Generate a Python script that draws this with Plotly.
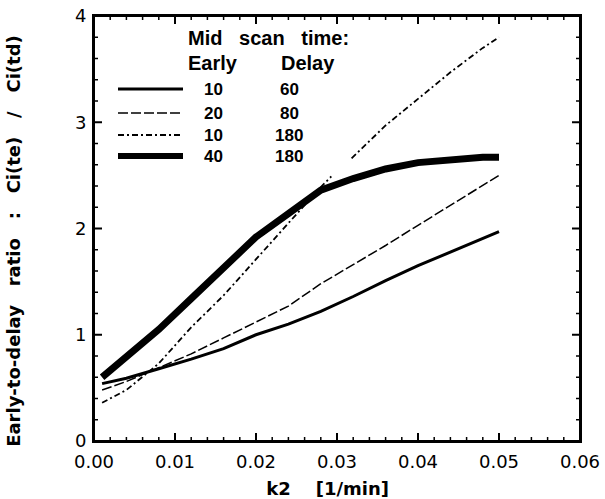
import plotly.graph_objects as go

# ---- data ----
x_10_60 = [0.001, 0.004, 0.008, 0.012, 0.016, 0.020, 0.024, 0.028, 0.032, 0.036, 0.040, 0.044, 0.048, 0.050]
y_10_60 = [0.54, 0.59, 0.68, 0.77, 0.87, 1.00, 1.10, 1.22, 1.36, 1.51, 1.65, 1.78, 1.91, 1.97]

x_20_80 = [0.001, 0.004, 0.008, 0.012, 0.016, 0.020, 0.024, 0.028, 0.032, 0.036, 0.040, 0.044, 0.048, 0.050]
y_20_80 = [0.48, 0.56, 0.69, 0.82, 0.97, 1.12, 1.27, 1.48, 1.66, 1.84, 2.03, 2.22, 2.41, 2.50]

x_10_180 = [0.001, 0.004, 0.008, 0.012, 0.016, 0.020, 0.024, 0.028, 0.0293, None, 0.0318, 0.036, 0.040, 0.044, 0.048, 0.050]
y_10_180 = [0.36, 0.48, 0.73, 1.07, 1.37, 1.71, 2.06, 2.39, 2.49, None, 2.66, 2.97, 3.22, 3.47, 3.70, 3.80]

x_40_180 = [0.001, 0.004, 0.008, 0.012, 0.016, 0.020, 0.024, 0.028, 0.032, 0.036, 0.040, 0.044, 0.048, 0.050]
y_40_180 = [0.60, 0.80, 1.05, 1.34, 1.62, 1.92, 2.14, 2.36, 2.47, 2.56, 2.62, 2.65, 2.67, 2.67]

legend_early = ["10", "20", "10", "40"]
legend_delay = ["60", "80", "180", "180"]

x_ticks = [0.00, 0.01, 0.02, 0.03, 0.04, 0.05, 0.06]
y_ticks = [0, 1, 2, 3, 4]
x_minor_step = 0.002
y_minor_step = 0.2

styles = [
    dict(width=3, dash="solid"),
    dict(width=1.5, dash="10px,3px"),
    dict(width=1.8, dash="6px,3px,2px,3px"),
    dict(width=7, dash="solid"),
]

series = [(x_10_60, y_10_60), (x_20_80, y_20_80), (x_10_180, y_10_180), (x_40_180, y_40_180)]

LIB = "Liberation Sans, Arial, sans-serif"
DJV = "DejaVu Sans, sans-serif"

FW, FH = 605, 499
L, R, T, B = 94, 580, 16, 441
W, H = R - L, B - T
XMIN, XMAX = x_ticks[0], x_ticks[-1]
YMIN, YMAX = y_ticks[0], y_ticks[-1]
def px2paper(px, py):
    return (px - L) / W, (B - py) / H

fig = go.Figure()

# ---- tick marks drawn as line traces in axis units (inside, all four sides) ----
x_per_px = (XMAX - XMIN) / W
y_per_px = (YMAX - YMIN) / H
def tick_paths(major):
    xs, ys = [], []
    nx = int(round((XMAX - XMIN) / x_minor_step))
    for i in range(nx + 1):
        v = XMIN + i * x_minor_step
        q = (v - XMIN) / (x_ticks[1] - x_ticks[0])
        is_major = abs(q - round(q)) < 1e-6
        if is_major != major:
            continue
        ln = (8 if major else 4) * y_per_px
        xs += [v, v, None, v, v, None]
        ys += [YMIN, YMIN + ln, None, YMAX, YMAX - ln, None]
    ny = int(round((YMAX - YMIN) / y_minor_step))
    for i in range(ny + 1):
        v = YMIN + i * y_minor_step
        is_major = abs(v - round(v)) < 1e-6
        if is_major != major:
            continue
        ln = (8 if major else 4) * x_per_px
        xs += [XMIN, XMIN + ln, None, XMAX, XMAX - ln, None]
        ys += [v, v, None, v, v, None]
    return xs, ys

for major, wd in ((True, 2), (False, 1.5)):
    tx, ty = tick_paths(major)
    fig.add_trace(go.Scatter(x=tx, y=ty, mode="lines", connectgaps=False, hoverinfo="skip",
                             line=dict(color="black", width=wd), showlegend=False, cliponaxis=False))

for (xs, ys), st, e, d in zip(series, styles, legend_early, legend_delay):
    fig.add_trace(go.Scatter(x=xs, y=ys, mode="lines", connectgaps=False,
                             line=dict(color="black", width=st["width"], dash=st["dash"]),
                             name=f"{e} / {d}", showlegend=False))

# ---- legend drawn as shapes + annotations ----
row_y = [89, 113, 135, 156]
for i, (st, e, d) in enumerate(zip(styles, legend_early, legend_delay)):
    x0, y0 = px2paper(118, row_y[i])
    x1, _ = px2paper(183, row_y[i])
    fig.add_shape(type="line", xref="paper", yref="paper", x0=x0, x1=x1, y0=y0, y1=y0,
                  line=dict(color="black", width=st["width"] if st["width"] < 5 else 6, dash=st["dash"]))
    ex, _ = px2paper(213, row_y[i])
    dx, _ = px2paper(289, row_y[i])
    fig.add_annotation(xref="paper", yref="paper", x=ex, y=y0, text=f"<b>{e}</b>", showarrow=False,
                       xanchor="center", yanchor="middle", font=dict(family=LIB, size=17, color="black"))
    fig.add_annotation(xref="paper", yref="paper", x=dx, y=y0, text=f"<b>{d}</b>", showarrow=False,
                       xanchor="center", yanchor="middle", font=dict(family=LIB, size=17, color="black"))

hx, hy = px2paper(186, 38)
fig.add_annotation(xref="paper", yref="paper", x=hx, y=hy, text="<b>Mid\u00a0\u00a0\u00a0scan\u00a0\u00a0\u00a0time:</b>",
                   showarrow=False, xanchor="left", yanchor="middle",
                   font=dict(family=LIB, size=20, color="black"))
ex, ey = px2paper(186, 63)
fig.add_annotation(xref="paper", yref="paper", x=ex, y=ey, text="<b>Early</b>",
                   showarrow=False, xanchor="left", yanchor="middle",
                   font=dict(family=LIB, size=20, color="black"))
dx, dy = px2paper(279, 63)
fig.add_annotation(xref="paper", yref="paper", x=dx, y=dy, text="<b>Delay</b>",
                   showarrow=False, xanchor="left", yanchor="middle",
                   font=dict(family=LIB, size=20, color="black"))

# frame on all four sides
fig.add_shape(type="rect", xref="paper", yref="paper", x0=0, x1=1, y0=0, y1=1,
              line=dict(color="black", width=2), layer="above")

axis_common = dict(showgrid=False, zeroline=False, showline=True, linecolor="black", linewidth=2,
                   mirror=True, ticks="", automargin=False, tickmode="linear",
                   tickfont=dict(family=DJV, size=18, color="black"))

fig.update_xaxes(range=[XMIN, XMAX], tick0=x_ticks[0], dtick=x_ticks[1] - x_ticks[0], tickformat=".2f",
                 ticklabelstandoff=3,
                 title=dict(text="<b>k2\u00a0\u00a0\u00a0\u00a0[1/min]\u00a0\u00a0\u00a0</b>", font=dict(family=DJV, size=18, color="black"), standoff=16),
                 **axis_common)
fig.update_yaxes(range=[YMIN, YMAX], tick0=y_ticks[0], dtick=y_ticks[1] - y_ticks[0],
                 ticklabelstandoff=2,
                 title=dict(text="<b>Early-to-delay\u00a0\u00a0\u00a0ratio\u00a0\u00a0\u00a0:\u00a0\u00a0\u00a0Ci(te)\u00a0\u00a0\u00a0/\u00a0\u00a0\u00a0Ci(td)\u00a0\u00a0\u00a0\u00a0</b>",
                            font=dict(family=DJV, size=18, color="black"), standoff=50),
                 **axis_common)

fig.update_layout(width=FW, height=FH,
                  margin=dict(l=L, r=FW - R, t=T, b=FH - B),
                  plot_bgcolor="white", paper_bgcolor="white", showlegend=False)

fig.write_html("out.html", config={"displayModeBar": False},
               post_script="document.body.style.margin='0';")
